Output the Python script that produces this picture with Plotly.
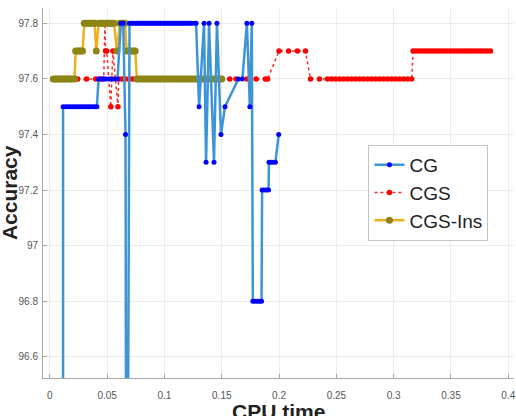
import plotly.graph_objects as go

# ---------------- data ----------------
cg_x = [0.0115, 0.0115, 0.0135, 0.0155, 0.0175, 0.0195, 0.0215, 0.0235, 0.0255, 0.0275,
        0.0295, 0.0315, 0.0335, 0.0355, 0.0375, 0.0395, 0.0410,
        0.0425, 0.0445, 0.0465, 0.0490, 0.0515, 0.0540, 0.0565, 0.0590,
        0.0620, 0.0640, 0.0660, 0.0670,
        0.0695, 0.0710, 0.0725, 0.0740, 0.0755, 0.0770, 0.0785, 0.0800, 0.0815, 0.0830,
        0.0845, 0.0860, 0.0875, 0.0890, 0.0905, 0.0920, 0.0935, 0.0950, 0.0965, 0.0980,
        0.0995, 0.1010, 0.1025, 0.1040, 0.1055, 0.1070, 0.1085, 0.1100, 0.1115, 0.1130,
        0.1145, 0.1160, 0.1175, 0.1190, 0.1205, 0.1220, 0.1235, 0.1259, 0.1276,
        0.1302, 0.1345, 0.1363, 0.1389, 0.1432, 0.1458, 0.1493, 0.1528,
        0.1645, 0.1680, 0.1719, 0.1745, 0.1762,
        0.1771, 0.1790, 0.1810, 0.1830, 0.1847,
        0.1852, 0.1870, 0.1890, 0.1908,
        0.1912, 0.1930, 0.1950, 0.1968, 0.1997]
cg_y = [95.0, 97.5, 97.5, 97.5, 97.5, 97.5, 97.5, 97.5, 97.5, 97.5,
        97.5, 97.5, 97.5, 97.5, 97.5, 97.5, 97.5,
        97.6, 97.6, 97.6, 97.6, 97.6, 97.6, 97.6, 97.6,
        97.8, 97.8, 97.4, 95.0,
        97.8, 97.8, 97.8, 97.8, 97.8, 97.8, 97.8, 97.8, 97.8, 97.8,
        97.8, 97.8, 97.8, 97.8, 97.8, 97.8, 97.8, 97.8, 97.8, 97.8,
        97.8, 97.8, 97.8, 97.8, 97.8, 97.8, 97.8, 97.8, 97.8, 97.8,
        97.8, 97.8, 97.8, 97.8, 97.8, 97.8, 97.8, 97.8, 97.8,
        97.5, 97.8, 97.3, 97.8, 97.3, 97.8, 97.4, 97.5,
        97.6, 97.6, 97.8, 97.5, 97.8,
        96.8, 96.8, 96.8, 96.8, 96.8,
        97.2, 97.2, 97.2, 97.2,
        97.3, 97.3, 97.3, 97.3, 97.4]

cgs_x = [0.0030, 0.0100, 0.0170, 0.0243, 0.0320, 0.0400, 0.0440, 0.0470,
         0.0480, 0.0486, 0.0496, 0.0532, 0.0540, 0.0550, 0.0594,
         0.0600, 0.0630, 0.0660, 0.0690, 0.0720, 0.0750, 0.0800, 0.0850, 0.0900,
         0.0950, 0.1000, 0.1050, 0.1100, 0.1150, 0.1200, 0.1250, 0.1300, 0.1350,
         0.1400, 0.1450, 0.1500, 0.1570, 0.1625, 0.1720, 0.1800, 0.1880, 0.1900,
         0.2000, 0.2083, 0.2160, 0.2230,
         0.2274, 0.2352, 0.2422, 0.2457, 0.2492, 0.2527, 0.2562, 0.2597, 0.2632,
         0.2667, 0.2702, 0.2737, 0.2772, 0.2807, 0.2842, 0.2877, 0.2912, 0.2947,
         0.2982, 0.3017, 0.3052, 0.3087, 0.3122, 0.3157,
         0.3170, 0.3195, 0.3220, 0.3245, 0.3270, 0.3295, 0.3320, 0.3345, 0.3370,
         0.3395, 0.3420, 0.3445, 0.3470, 0.3495, 0.3520, 0.3545, 0.3570, 0.3595,
         0.3620, 0.3645, 0.3670, 0.3695, 0.3720, 0.3745, 0.3770, 0.3795, 0.3820,
         0.3845]
cgs_y = [97.6, 97.6, 97.6, 97.6, 97.6, 97.6, 97.6, 97.6,
         97.8, 97.7, 97.7, 97.5, 97.6, 97.7, 97.5,
         97.6, 97.6, 97.6, 97.6, 97.6, 97.6, 97.6, 97.6, 97.6,
         97.6, 97.6, 97.6, 97.6, 97.6, 97.6, 97.6, 97.6, 97.6,
         97.6, 97.6, 97.6, 97.6, 97.6, 97.6, 97.6, 97.6, 97.6,
         97.7, 97.7, 97.7, 97.7,
         97.6, 97.6, 97.6, 97.6, 97.6, 97.6, 97.6, 97.6, 97.6,
         97.6, 97.6, 97.6, 97.6, 97.6, 97.6, 97.6, 97.6, 97.6,
         97.6, 97.6, 97.6, 97.6, 97.6, 97.6,
         97.7, 97.7, 97.7, 97.7, 97.7, 97.7, 97.7, 97.7, 97.7,
         97.7, 97.7, 97.7, 97.7, 97.7, 97.7, 97.7, 97.7, 97.7,
         97.7, 97.7, 97.7, 97.7, 97.7, 97.7, 97.7, 97.7, 97.7,
         97.7]

ins_x = [0.0030, 0.0045, 0.0060, 0.0075, 0.0090, 0.0105, 0.0120, 0.0135, 0.0150,
         0.0165, 0.0180, 0.0195, 0.0215,
         0.0225, 0.0240, 0.0255, 0.0270, 0.0285,
         0.0300, 0.0315, 0.0330, 0.0345, 0.0360, 0.0375, 0.0390,
         0.0405,
         0.0425, 0.0440, 0.0455, 0.0470, 0.0485, 0.0500, 0.0515, 0.0530, 0.0545, 0.0560,
         0.0585,
         0.0610, 0.0625, 0.0640, 0.0655,
         0.0670, 0.0685, 0.0700, 0.0715, 0.0730, 0.0745,
         0.0760, 0.0780, 0.0800, 0.0820, 0.0840, 0.0860, 0.0880, 0.0900, 0.0920, 0.0940,
         0.0960, 0.0980, 0.1000, 0.1020, 0.1040, 0.1060, 0.1080, 0.1100, 0.1120, 0.1140,
         0.1160, 0.1180, 0.1200, 0.1220, 0.1240, 0.1260, 0.1280, 0.1300, 0.1320, 0.1340,
         0.1360, 0.1380, 0.1400, 0.1420, 0.1440, 0.1460, 0.1480, 0.1500]
ins_y = [97.6, 97.6, 97.6, 97.6, 97.6, 97.6, 97.6, 97.6, 97.6,
         97.6, 97.6, 97.6, 97.6,
         97.7, 97.7, 97.7, 97.7, 97.7,
         97.8, 97.8, 97.8, 97.8, 97.8, 97.8, 97.8,
         97.7,
         97.8, 97.8, 97.8, 97.8, 97.8, 97.8, 97.8, 97.8, 97.8, 97.8,
         97.7,
         97.8, 97.8, 97.8, 97.8,
         97.7, 97.7, 97.7, 97.7, 97.7, 97.7,
         97.6, 97.6, 97.6, 97.6, 97.6, 97.6, 97.6, 97.6, 97.6, 97.6,
         97.6, 97.6, 97.6, 97.6, 97.6, 97.6, 97.6, 97.6, 97.6, 97.6,
         97.6, 97.6, 97.6, 97.6, 97.6, 97.6, 97.6, 97.6, 97.6, 97.6,
         97.6, 97.6, 97.6, 97.6, 97.6, 97.6, 97.6, 97.6]

x_ticks = [0, 0.05, 0.1, 0.15, 0.2, 0.25, 0.3, 0.35, 0.4]
x_tick_text = ["0", "0.05", "0.1", "0.15", "0.2", "0.25", "0.3", "0.35", "0.4"]
y_ticks = [96.6, 96.8, 97.0, 97.2, 97.4, 97.6, 97.8]
y_tick_text = ["96.6", "96.8", "97", "97.2", "97.4", "97.6", "97.8"]

# ---------------- figure ----------------
fig = go.Figure()

fig.add_trace(go.Scatter(
    x=cgs_x, y=cgs_y, name="CGS", mode="lines+markers", legendrank=2,
    line=dict(color="#ff2a2a", width=1.5, dash="dot"),
    marker=dict(color="#ff0000", size=5.5)))

fig.add_trace(go.Scatter(
    x=ins_x, y=ins_y, name="CGS-Ins", mode="lines+markers", legendrank=3,
    line=dict(color="#EDB120", width=2.5),
    marker=dict(color="#8c8514", size=7)))

fig.add_trace(go.Scatter(
    x=cg_x, y=cg_y, name="CG", mode="lines+markers", legendrank=1,
    line=dict(color="#3d95d6", width=2.5),
    marker=dict(color="#0000ff", size=5)))

axis_common = dict(
    showgrid=True, gridcolor="#ececec", gridwidth=1,
    showline=True, linecolor="#a8a8a8", linewidth=1,
    ticks="inside", ticklen=4, tickcolor="#a8a8a8",
    tickfont=dict(family="Liberation Sans, Arial, sans-serif", size=10, color="#555555"),
    zeroline=False, mirror=False, ticklabeloverflow="allow",
)

fig.update_layout(
    width=516, height=416,
    margin=dict(l=43, r=0, t=8, b=38),
    paper_bgcolor="white", plot_bgcolor="white",
    xaxis=dict(range=[-0.006, 0.405], tickvals=x_ticks, ticktext=x_tick_text,
               ticklabelstandoff=8, **axis_common),
    yaxis=dict(range=[96.524, 97.855], tickvals=y_ticks, ticktext=y_tick_text,
               ticklabelstandoff=2, **axis_common),
    legend=dict(
        x=0.691, y=0.63, xanchor="left", yanchor="top",
        bgcolor="white", bordercolor="#c4c4c4", borderwidth=1,
        font=dict(family="Liberation Sans, Arial, sans-serif", size=19, color="#222222"),
        tracegroupgap=0,
    ),
    annotations=[
        dict(text="<b>CPU time</b>", xref="paper", yref="paper", x=0.5, y=-0.055,
             xanchor="center", yanchor="top", showarrow=False,
             font=dict(family="Liberation Sans, Arial, sans-serif", size=21, color="#222222")),
        dict(text="<b>Accuracy</b>", xref="paper", yref="paper", x=-0.072, y=0.5,
             xanchor="center", yanchor="middle", textangle=-90, showarrow=False,
             font=dict(family="Liberation Sans, Arial, sans-serif", size=21, color="#222222")),
    ],
    showlegend=True,
)

fig.write_html("out.html")
